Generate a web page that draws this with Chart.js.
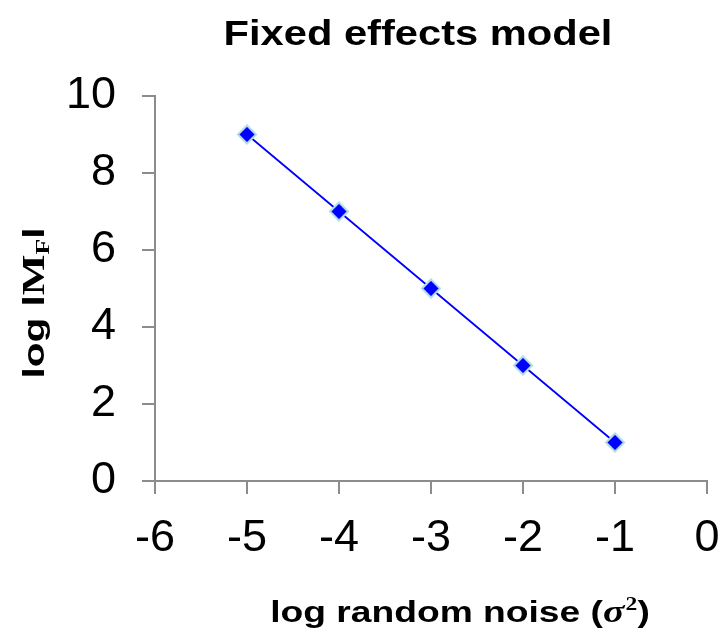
<!DOCTYPE html>
<html>
<head>
<meta charset="utf-8">
<title>Fixed effects model</title>
<script src="https://cdn.jsdelivr.net/npm/chart.js@4/dist/chart.umd.min.js"></script>
<style>
  html, body { margin: 0; padding: 0; background: #ffffff; }
  canvas { display: block; }
</style>
</head>
<body>
<canvas id="chart" width="721" height="632"></canvas>
<script>
// log random noise (sigma^2) against log |M_F|
const logNoise = [-5, -4, -3, -2, -1];
const logMF = [9, 7, 5, 3, 1];
const xTickLabels = ['-6', '-5', '-4', '-3', '-2', '-1', '0'];
const yTickLabels = ['0', '2', '4', '6', '8', '10'];

const SANS = '"Liberation Sans", Arial, sans-serif';
const SERIF = '"Liberation Serif", "Times New Roman", serif';
const AXIS_GREY = '#8c8c8c';

// Draws a run of text pieces (mixed fonts, sub/superscripts) centred on (cx, cy),
// optionally widened along the text direction by `stretch`.
function drawRuns(ctx, runs, cx, cy, angle, stretch) {
  ctx.save();
  ctx.translate(cx, cy);
  ctx.rotate(angle || 0);
  ctx.scale(stretch || 1, 1);
  ctx.textBaseline = 'alphabetic';
  ctx.textAlign = 'left';
  ctx.fillStyle = '#000000';
  let total = 0;
  runs.forEach(r => { ctx.font = r.font; r.w = ctx.measureText(r.text).width; total += r.w + (r.gap || 0); });
  let x = -total / 2;
  runs.forEach(r => {
    ctx.font = r.font;
    ctx.fillText(r.text, x, (r.dy || 0));
    x += r.w + (r.gap || 0);
  });
  ctx.restore();
}

const titlesPlugin = {
  id: 'titles',
  afterDraw(chart) {
    const ctx = chart.ctx;
    // chart title
    drawRuns(ctx, [{ text: 'Fixed effects model', font: 'bold 35px ' + SANS }], 418, 45, 0, 1.19);
    // x axis title
    drawRuns(ctx, [
      { text: 'log random noise (', font: 'bold 30px ' + SANS },
      { text: 'σ', font: 'italic bold 32px ' + SERIF, gap: 1 },
      { text: '2', font: 'bold 19px ' + SERIF, dy: -12 },
      { text: ')', font: 'bold 30px ' + SANS }
    ], 460, 622, 0, 1.24);
    // y axis title
    drawRuns(ctx, [
      { text: 'log l', font: 'bold 30px ' + SANS },
      { text: 'M', font: 'bold 32px ' + SERIF },
      { text: 'F', font: 'bold 19px ' + SERIF, dy: 5 },
      { text: 'l', font: 'bold 30px ' + SANS }
    ], 44, 303, -Math.PI / 2, 1.35);
  }
};

new Chart(document.getElementById('chart'), {
  type: 'line',
  data: {
    datasets: [{
      data: logNoise.map((x, i) => ({ x: x, y: logMF[i] })),
      borderColor: '#0000ff',
      borderWidth: 1.8,
      backgroundColor: '#0000ff',
      pointStyle: 'rectRot',
      pointRadius: 9,
      pointHoverRadius: 9,
      pointBackgroundColor: '#0000ff',
      pointBorderColor: '#b0dbe8',
      pointBorderWidth: 2,
      tension: 0,
      fill: false
    }]
  },
  options: {
    responsive: false,
    animation: false,
    devicePixelRatio: 1,
    layout: { padding: { top: 96, right: 14, bottom: 0, left: 0 } },
    plugins: { legend: { display: false }, tooltip: { enabled: false }, title: { display: false } },
    scales: {
      x: {
        type: 'linear',
        min: -6,
        max: 0,
        afterFit(scale) {
          scale.height = 151;
          scale.paddingLeft = 0;
          scale.paddingRight = 0;
        },
        ticks: {
          stepSize: 1,
          color: '#000000',
          padding: 18,
          font: { family: SANS, size: 45 },
          callback: (v) => xTickLabels[Math.round(v) + 6]
        },
        grid: { drawOnChartArea: false, drawTicks: true, tickLength: 13, color: AXIS_GREY, lineWidth: 2 },
        border: { display: true, color: AXIS_GREY, width: 2 }
      },
      y: {
        type: 'linear',
        min: 0,
        max: 10,
        afterFit(scale) {
          scale.width = 155;
          scale.paddingTop = 0;
          scale.paddingBottom = 0;
        },
        ticks: {
          stepSize: 2,
          color: '#000000',
          padding: 26,
          font: { family: SANS, size: 45 },
          callback: (v) => yTickLabels[Math.round(v / 2)]
        },
        grid: { drawOnChartArea: false, drawTicks: true, tickLength: 13, color: AXIS_GREY, lineWidth: 2 },
        border: { display: true, color: AXIS_GREY, width: 2 }
      }
    }
  },
  plugins: [titlesPlugin]
});
</script>
</body>
</html>
